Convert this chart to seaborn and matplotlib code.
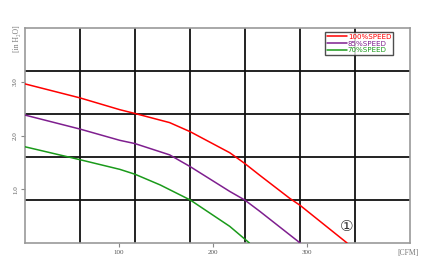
import numpy as np
import pandas as pd
import matplotlib
matplotlib.use("Agg")
import matplotlib.pyplot as plt
import seaborn as sns

# Data
cfm_100 = [0, 58.5, 101, 117, 154, 176, 218, 234, 250, 282, 293, 343]
p_100 = [2.96, 2.70, 2.48, 2.41, 2.24, 2.07, 1.68, 1.48, 1.26, 0.83, 0.70, 0.0]
cfm_85 = [0, 58.5, 101, 117, 154, 176, 218, 234, 250, 293]
p_85 = [2.38, 2.12, 1.91, 1.85, 1.64, 1.42, 0.96, 0.80, 0.59, 0.0]
cfm_70 = [0, 58.5, 101, 117, 144, 176, 218, 239]
p_70 = [1.79, 1.55, 1.37, 1.28, 1.08, 0.80, 0.31, 0.0]
series_names = ["100%SPEED", "85%SPEED", "70%SPEED"]
series_colors = ["#ff0000", "#7f1f8f", "#1a9a1a"]
x_ticks = [100, 200, 300]
y_ticks = [1.0, 2.0, 3.0]
x_label = "[CFM]"
y_label = "[in H\u2082O]"
marker_text = "\u2460"

frames = []
for name, xs, ys in zip(series_names, [cfm_100, cfm_85, cfm_70], [p_100, p_85, p_70]):
    frames.append(pd.DataFrame({"CFM": xs, "P": ys, "speed": name}))
df = pd.concat(frames, ignore_index=True)

sns.set_style("white")
plt.rcParams["font.family"] = ["Liberation Serif", "DejaVu Serif"]

fig = plt.figure(figsize=(4.21, 2.69), dpi=100)
ax = fig.add_axes([25/421, 26/269, 385/421, 215/269])

xmax, ymax = 410, 4.0
# grid: 7 columns x 5 rows
for i in range(1, 7):
    ax.axvline(xmax * i / 7, color="#111111", lw=1.3, zorder=1)
for j in range(1, 5):
    ax.axhline(ymax * j / 5, color="#111111", lw=1.3, zorder=1)

sns.lineplot(data=df, x="CFM", y="P", hue="speed", palette=dict(zip(series_names, series_colors)),
             hue_order=series_names, sort=False, estimator=None, lw=1.1, ax=ax, zorder=3, legend=True)

ax.set_xlim(0, xmax)
ax.set_ylim(0, ymax)
ax.set_xticks(x_ticks)
ax.set_xticklabels([str(t) for t in x_ticks], fontsize=5, color="#555555")
ax.set_yticks(y_ticks)
ax.set_yticklabels([f"{t:.1f}" for t in y_ticks], fontsize=5, color="#555555", rotation=90, va="center")
ax.tick_params(axis="both", length=3, width=0.8, color="#888888", pad=2, direction="out")
ax.tick_params(axis="x", bottom=True)
ax.tick_params(axis="y", left=True)
ax.set_xlabel("")
ax.set_ylabel("")
for s in ax.spines.values():
    s.set_color("#999999")
    s.set_linewidth(1.2)
    s.set_visible(True)

ax.text(-0.021, 0.95, y_label, transform=ax.transAxes, rotation=90, ha="center", va="center",
        fontsize=5.5, color="#777777")
ax.text(0.995, -0.045, x_label, transform=ax.transAxes, ha="center", va="center",
        fontsize=5.5, color="#777777")
ax.text(343, 0.3, marker_text, ha="center", va="center", fontsize=11, color="#333333",
        family=["DejaVu Sans"], zorder=4)

leg = ax.legend(loc="upper right", bbox_to_anchor=(0.955, 0.98), fontsize=5.1, frameon=True,
                handlelength=2.8, handletextpad=0.15, borderpad=0.2, labelspacing=0.12,
                borderaxespad=0, fancybox=False, title=None)
leg.get_frame().set_edgecolor("#222222")
leg.get_frame().set_linewidth(1.0)
for txt, c in zip(leg.get_texts(), series_colors):
    txt.set_color(c)
    txt.set_family(["DejaVu Sans"])

fig.savefig("out.png", dpi=100)
